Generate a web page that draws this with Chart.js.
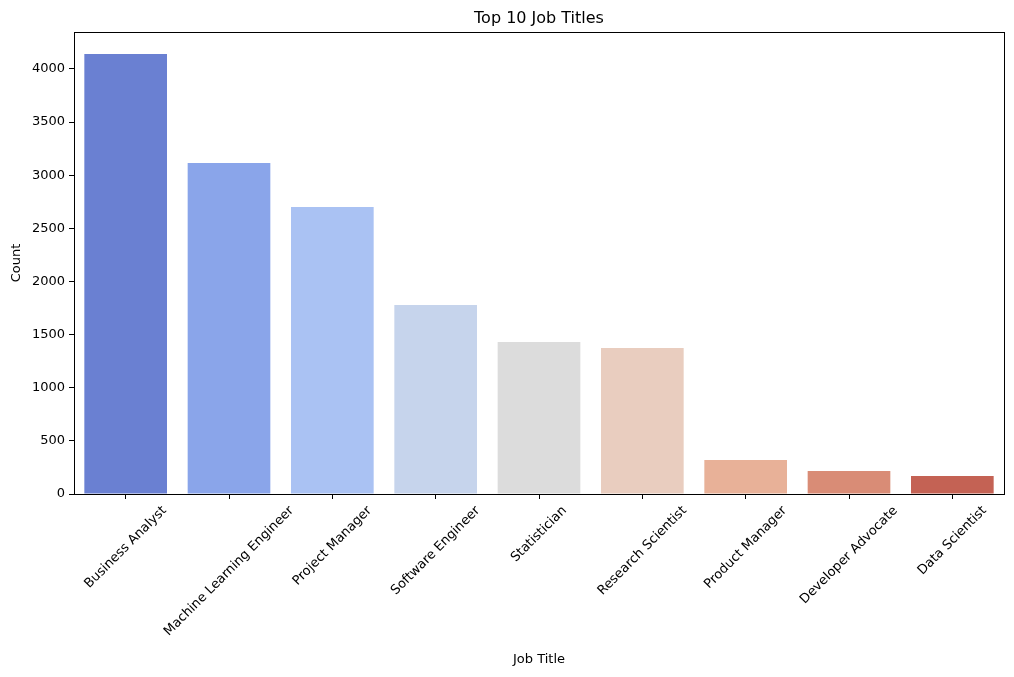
<!DOCTYPE html>
<html>
<head>
<meta charset="utf-8">
<script src="https://cdn.jsdelivr.net/npm/chart.js@4/dist/chart.umd.min.js"></script>
<style>
  html, body { margin: 0; padding: 0; background: #fff; }
  #wrap { width: 1014px; height: 677px; }
</style>
</head>
<body>
<div id="wrap"><canvas id="c" width="1014" height="677"></canvas></div>
<script>
const chartTitle = "Top 10 Job Titles";
const xTitle = "Job Title";
const yTitle = "Count";
const categories = ["Business Analyst", "Machine Learning Engineer", "Project Manager", "Software Engineer", "Statistician", "Research Scientist", "Product Manager", "Developer Advocate", "Data Scientist"];
const counts = [4141, 3115, 2700, 1779, 1430, 1374, 320, 216, 169];
const barColors = ["#6a80d2", "#8aa5ea", "#aac2f3", "#c6d4ec", "#dcdcdc", "#e9cdbf", "#e8b198", "#d98c76", "#c46254"];
const yTickValues = [0, 500, 1000, 1500, 2000, 2500, 3000, 3500, 4000];
const yMax = 4348;

const FONT = "'DejaVu Sans', sans-serif";

const framePlugin = {
  id: 'frame',
  afterDraw(chart) {
    const ctx = chart.ctx;
    const a = chart.chartArea;
    ctx.save();
    ctx.strokeStyle = '#000';
    ctx.lineWidth = 1;
    ctx.strokeRect(Math.round(a.left) + 0.5, Math.round(a.top) + 0.5, Math.round(a.right - a.left), Math.round(a.bottom - a.top));
    ctx.fillStyle = '#000';
    ctx.font = "16px " + FONT;
    ctx.textAlign = 'center';
    ctx.textBaseline = 'alphabetic';
    ctx.fillText(chartTitle, (a.left + a.right) / 2, 23);
    const xs = chart.scales.x;
    ctx.font = "13px " + FONT;
    const h = 13;
    const c = Math.cos(Math.PI / 4);
    categories.forEach((lab, i) => {
      const w = ctx.measureText(lab).width;
      const ext = (w + h) * c;
      const cx = xs.getPixelForValue(i);
      const cy = a.bottom + 10 + ext / 2;
      ctx.save();
      ctx.translate(cx, cy);
      ctx.rotate(-Math.PI / 4);
      ctx.textAlign = 'center';
      ctx.textBaseline = 'middle';
      ctx.fillText(lab, 0, 0);
      ctx.restore();
    });
    ctx.restore();
  }
};

new Chart(document.getElementById('c'), {
  type: 'bar',
  data: {
    labels: categories,
    datasets: [{
      data: counts,
      backgroundColor: barColors,
      borderWidth: 0,
      categoryPercentage: 1.0,
      barPercentage: 0.8
    }]
  },
  options: {
    responsive: false,
    animation: false,
    devicePixelRatio: 1,
    layout: { padding: { top: 32, right: 10, bottom: 0, left: 0 } },
    plugins: {
      legend: { display: false },
      title: { display: false },
      tooltip: { enabled: false }
    },
    scales: {
      x: {
        type: 'category',
        offset: true,
        grid: { display: true, offset: false, drawOnChartArea: false, drawTicks: true, tickLength: 5, color: '#000', lineWidth: 1 },
        border: { display: true, color: '#000', width: 1 },
        ticks: { display: false },
        title: { display: true, text: xTitle, color: '#000', font: { family: FONT, size: 13 }, padding: { top: 0, bottom: 10 } },
        afterFit(scale) { scale.height = 183; }
      },
      y: {
        min: 0,
        max: yMax,
        grid: { display: true, drawOnChartArea: false, drawTicks: true, tickLength: 5, color: '#000', lineWidth: 1 },
        border: { display: true, color: '#000', width: 1 },
        ticks: { color: '#000', padding: 4, font: { family: FONT, size: 13 }, callback: (v) => String(v) },
        afterBuildTicks(scale) { scale.ticks = yTickValues.map(v => ({ value: v })); },
        title: { display: true, text: yTitle, color: '#000', font: { family: FONT, size: 13 }, padding: { top: 9, bottom: 0 } },
        afterFit(scale) { scale.width = 74; }
      }
    }
  },
  plugins: [framePlugin]
});
</script>
</body>
</html>
